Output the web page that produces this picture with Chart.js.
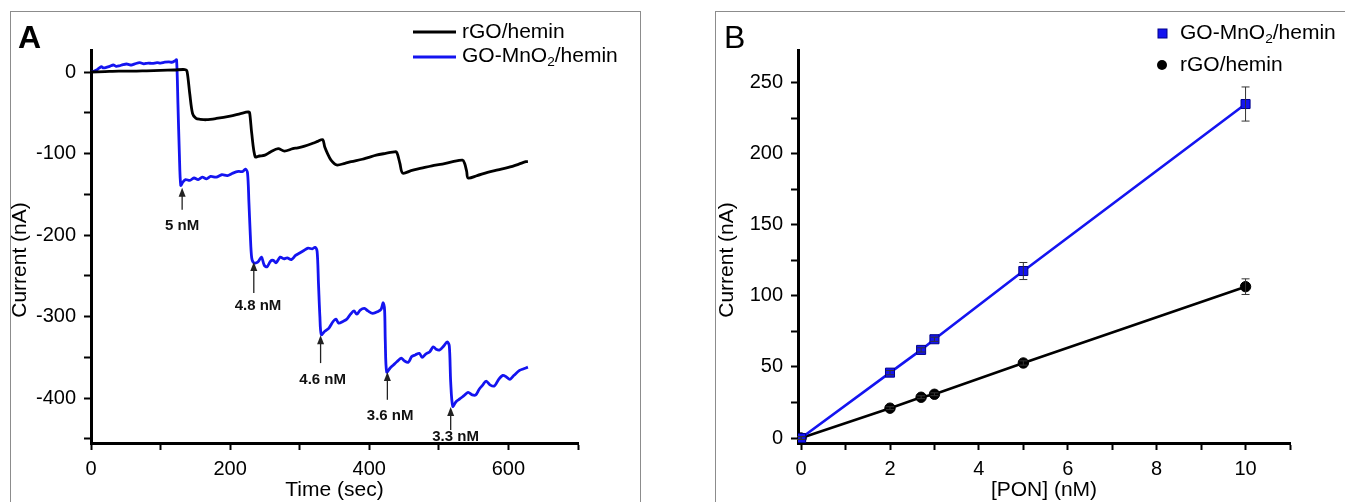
<!DOCTYPE html>
<html><head><meta charset="utf-8">
<script src="https://cdn.jsdelivr.net/npm/chart.js@4.4.1/dist/chart.umd.min.js"></script>
<style>
html,body{margin:0;padding:0;background:#fff;width:1345px;height:502px;overflow:hidden;position:relative}
.frame{position:absolute;border:1px solid #8c8c8c;border-bottom:none}
#fa{left:10px;top:11px;width:629px;height:520px}
#fb{left:715px;top:11px;width:700px;height:520px}
.cv{position:absolute;top:0}
#wa{left:0;width:660px;height:502px}
#wb{left:700px;width:645px;height:502px}
</style></head>
<body>
<div class="frame" id="fa"></div><div class="frame" id="fb"></div>
<div class="cv" id="wa"><canvas id="ca"></canvas></div>
<div class="cv" id="wb"><canvas id="cb"></canvas></div>
<script>
/* ===== 資料：A 圖（時間-電流）===== */
const tBlack = [0,20,40,60,80,100,120,135,138,142,146,151,157,166,180,200,215,226,228,231,236,242,250,258,269,278,290,297,307,320,326,333,
  336,340,345,353,365,374,390,398,410,422,436,439,441,444,448,460,475,490,505,520,534,537,540,542,555,570,585,600,615,625,628];
const iBlack = [0,0.5,1,1,1.5,2,2.5,3,1,-27,-51,-57,-58,-58.5,-57,-54,-51,-49,-50,-75,-104,-103,-102,-98,-94,-97,-94,-93,-91,-87,-85,-83,
  -92,-100,-108,-114,-112,-110,-107,-105,-102,-100,-98,-98,-102,-112,-124,-121,-118,-115,-113,-110,-108,-112,-122,-130,-127,-123,-120,-117,-113,-110,-110];

const tBlue = [0,4,8,12,15,18,22,27,32,36,40,46,51,55,58,63,70,76,82,88,95,100,106,112,117,121,123,
  125,127,129,132,136,142,148,154,160,166,172,180,188,196,204,212,218,222,225,
  227,229,231,234,240,245,249,253,258,262,266,272,277,282,288,294,300,306,312,318,322,325,
  327,329,331,336,342,348,352,356,362,368,373,378,382,387,393,398,405,412,417,420,422,
  423,425,430,435,440,446,450,456,461,466,472,476,481,487,492,496,501,507,512,515,
  517,520,525,530,536,542,548,553,558,563,568,574,580,586,592,597,602,608,616,622,628];
const iBlue = [0,1,2.5,5,6.5,5,5.7,7,8.6,7,7.4,9,9.8,9,8.6,10,11.4,10,11,10.5,11.5,11,12,12.5,12,14,15,
  -40,-100,-139,-135,-132,-133,-130,-132,-129,-131,-128,-129,-126,-127,-124,-122,-122,-119,-124,
  -160,-200,-228,-234,-233,-227,-237,-239,-232,-231,-234,-227,-229,-228,-230,-225,-222,-219,-216,-217,-215,-220,
  -260,-300,-322,-318,-314,-306,-303,-308,-306,-303,-297,-293,-297,-292,-290,-293,-296,-294,-291,-283,-292,
  -330,-368,-363,-359,-355,-351,-354,-356,-349,-347,-345,-350,-346,-343,-337,-340,-341,-336,-331,-336,
  -380,-410,-404,-401,-397,-393,-396,-396,-389,-384,-379,-384,-385,-377,-372,-374,-377,-372,-366,-364,-362];

// 箭頭標註（x=時間, y=電流）
const annText = ['5 nM','4.8 nM','4.6 nM','3.6 nM','3.3 nM'];
const annT    = [131, 234, 330, 426, 517];
const annTip  = [-142, -233, -323, -368, -411];
const annBase = [-169, -271, -357, -402, -439];
const annLblT = [131, 240, 333, 430, 524];
const annLblY = [-189, -287, -378, -422, -448];

/* ===== 資料：B 圖（濃度-電流）===== */
const pon      = [0, 2, 2.7, 3, 5, 10];
const curMn    = [0, 46, 62, 69.5, 117.5, 235];
const errMn    = [1, 1.5, 1.5, 1.5, 6, 12];
const curRgo   = [0, 21, 28.7, 30.8, 52.8, 106.5];
const errRgo   = [1, 1, 1, 1, 1.5, 5.5];

const FONT = "'Liberation Sans', Arial, sans-serif";
const BLUE = '#1414f0';
const xy = (xs, ys) => xs.map((x,i)=>({x, y:ys[i]}));

// 含下標文字
function subText(ctx, parts, x, y, size){
  parts.forEach(([s,sub])=>{
    ctx.font = (sub? size*0.65 : size)+'px '+FONT;
    ctx.fillText(s, x, sub ? y+size*0.28 : y);
    x += ctx.measureText(s).width;
  });
}
const mnParts = [['GO-MnO',0],['2',1],['/hemin',0]];

// 直立的 y 軸標題
function yTitle(ctx, text, x, y){
  ctx.save();
  ctx.translate(x, y); ctx.rotate(-Math.PI/2);
  ctx.font='21px '+FONT; ctx.fillStyle='#000';
  ctx.textAlign='center'; ctx.textBaseline='middle';
  ctx.fillText(text, 0, 0);
  ctx.restore();
}

function axis(opt){
  return {
    type:'linear', min:opt.min, max:opt.max,
    afterFit: s => { if(opt.w) s.width = opt.w; if(opt.h) s.height = opt.h; },
    ticks:{stepSize:opt.step, includeBounds:false, maxTicksLimit:100, autoSkip:false, maxRotation:0,
      padding:opt.pad, color:'#000', font:{family:FONT, size:20}, callback:opt.cb},
    grid:{drawOnChartArea:false, tickLength:7, tickWidth:2, tickColor:'#000'},
    border:{color:'#000', width:3},
    title:{display:!!opt.title, text:opt.title, color:'#000', font:{family:FONT, size:21, lineHeight:1}, padding:{top:0,bottom:1}}
  };
}

/* ===== A 圖 ===== */
const plugA = {
  id:'plugA',
  afterDatasetsDraw(c){
    const ctx=c.ctx, sx=c.scales.x, sy=c.scales.y;
    ctx.save();
    ctx.strokeStyle='#222'; ctx.fillStyle='#222'; ctx.lineWidth=1.3;
    annT.forEach((t,i)=>{
      const x=sx.getPixelForValue(t), y1=sy.getPixelForValue(annTip[i]), y2=sy.getPixelForValue(annBase[i]);
      ctx.fillStyle='#222';
      ctx.beginPath(); ctx.moveTo(x,y2); ctx.lineTo(x,y1+4); ctx.stroke();
      ctx.beginPath(); ctx.moveTo(x,y1); ctx.lineTo(x-3.5,y1+9); ctx.lineTo(x+3.5,y1+9); ctx.closePath(); ctx.fill();
      ctx.font='bold 15px '+FONT; ctx.textAlign='center'; ctx.textBaseline='middle';
      ctx.fillStyle='#111';
      ctx.fillText(annText[i], sx.getPixelForValue(annLblT[i]), sy.getPixelForValue(annLblY[i]));
    });
    // 圖例
    ctx.textAlign='left'; ctx.textBaseline='middle'; ctx.fillStyle='#000';
    ctx.lineWidth=3;
    ctx.strokeStyle='#000'; ctx.beginPath(); ctx.moveTo(413,32); ctx.lineTo(456,32); ctx.stroke();
    ctx.font='21px '+FONT; ctx.fillText('rGO/hemin', 462, 32);
    ctx.strokeStyle=BLUE; ctx.beginPath(); ctx.moveTo(413,57); ctx.lineTo(456,57); ctx.stroke();
    subText(ctx, mnParts, 462, 56, 21);
    ctx.font='bold 32px '+FONT; ctx.textBaseline='alphabetic';
    ctx.fillText('A', 18, 48);
    ctx.restore();
    yTitle(ctx, 'Current (nA)', 20, 260);
  }
};

new Chart(document.getElementById('ca'),{
  type:'line',
  data:{datasets:[
    {data:xy(tBlack,iBlack), borderColor:'#000', borderWidth:2.8, pointRadius:0, tension:0.3},
    {data:xy(tBlue,iBlue), borderColor:BLUE, borderWidth:2.8, pointRadius:0, tension:0.3}
  ]},
  options:{
    responsive:true, maintainAspectRatio:false, animation:false,
    layout:{padding:{left:0, top:50, right:82, bottom:0}},
    plugins:{legend:{display:false}, tooltip:{enabled:false}},
    scales:{
      x: axis({min:0, max:700, step:100, h:59, pad:7, title:'Time (sec)', cb:v=> v%200===0 ? v : ''}),
      y: axis({min:-455, max:27, step:50, w:91, pad:8, cb:v=> v%100===0 ? v : ''})
    }
  },
  plugins:[plugA]
});

/* ===== B 圖 ===== */
const plugB = {
  id:'plugB',
  afterDatasetsDraw(c){
    const ctx=c.ctx, sx=c.scales.x, sy=c.scales.y;
    ctx.save();
    ctx.strokeStyle='#333'; ctx.lineWidth=1;
    [[curMn,errMn],[curRgo,errRgo]].forEach(([ys,es])=>{
      pon.forEach((p,i)=>{
        const x=sx.getPixelForValue(p), a=sy.getPixelForValue(ys[i]+es[i]), b=sy.getPixelForValue(ys[i]-es[i]);
        ctx.beginPath();
        ctx.moveTo(x,a); ctx.lineTo(x,b);
        ctx.moveTo(x-4,a); ctx.lineTo(x+4,a);
        ctx.moveTo(x-4,b); ctx.lineTo(x+4,b);
        ctx.stroke();
      });
    });
    // 圖例
    ctx.fillStyle=BLUE; ctx.strokeStyle='#00008b';
    ctx.fillRect(458,29,9,9); ctx.strokeRect(458,29,9,9);
    ctx.fillStyle='#000';
    ctx.beginPath(); ctx.arc(462,65,5,0,Math.PI*2); ctx.fill();
    ctx.textAlign='left'; ctx.textBaseline='middle';
    subText(ctx, mnParts, 480, 33, 21);
    ctx.font='21px '+FONT; ctx.fillText('rGO/hemin', 480, 65);
    ctx.font='32px '+FONT; ctx.textBaseline='alphabetic';
    ctx.fillText('B', 24, 48);
    ctx.restore();
    yTitle(ctx, 'Current (nA)', 27, 260);
  }
};

new Chart(document.getElementById('cb'),{
  type:'scatter',
  data:{datasets:[
    {data:xy(pon,curMn), showLine:true, borderColor:BLUE, borderWidth:2.6, pointStyle:'rect', pointRadius:6.4,
      pointBackgroundColor:BLUE, pointBorderColor:'#00008b', pointBorderWidth:1},
    {data:xy(pon,curRgo), showLine:true, borderColor:'#000', borderWidth:2.6, pointStyle:'circle', pointRadius:5.2,
      pointBackgroundColor:'#000', pointBorderColor:'#000', pointBorderWidth:1}
  ]},
  options:{
    responsive:true, maintainAspectRatio:false, animation:false,
    layout:{padding:{left:0, top:50, right:55, bottom:0}},
    plugins:{legend:{display:false}, tooltip:{enabled:false}},
    scales:{
      x: axis({min:-0.07, max:11, step:1, h:59, pad:7, title:'[PON] (nM)', cb:v=> v%2===0 ? v : ''}),
      y: axis({min:-3.5, max:273, step:25, w:98, pad:8, cb:v=> v%50===0 ? v : ''})
    }
  },
  plugins:[plugB]
});
</script>
</body></html>
